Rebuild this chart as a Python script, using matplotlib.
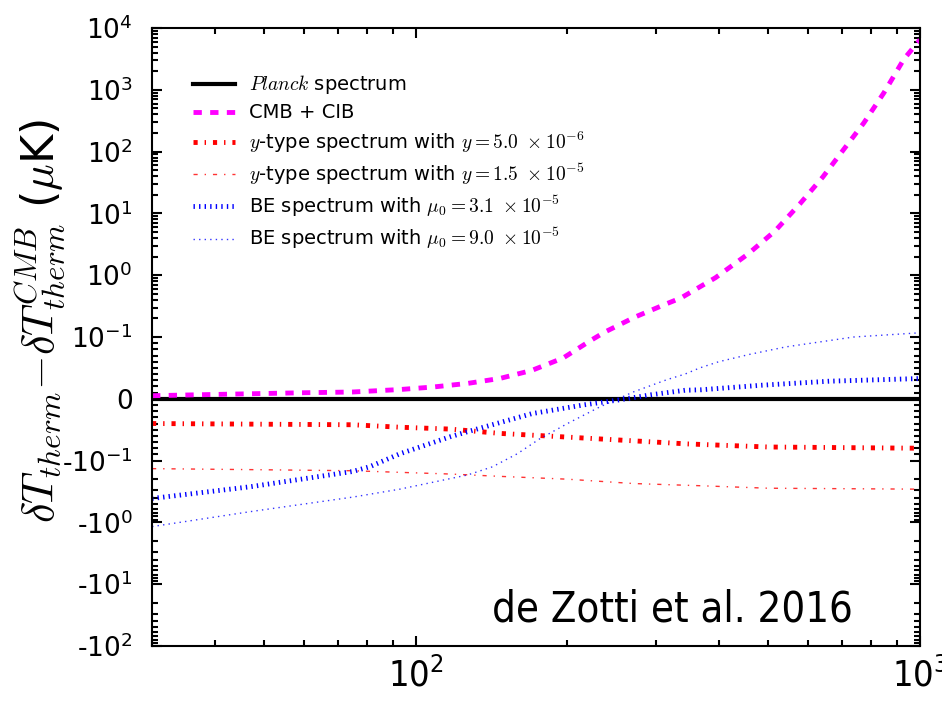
import numpy as np
import matplotlib
matplotlib.use("Agg")
from matplotlib import pyplot as plt
from matplotlib.ticker import FixedLocator, NullFormatter

plt.rcParams['mathtext.fontset'] = 'cm'
plt.rcParams['lines.scale_dashes'] = False

# frequency grids (GHz) and temperature residuals (muK) for each curve
nu_planck = [30, 1000]
dT_planck = [0.0, 0.0]

nu_cib = [30, 37, 59, 75, 93, 108, 127, 147, 170, 196, 223, 237, 272, 313,
          336, 393, 456, 516, 578, 642, 705, 774, 848, 930, 1000]
dT_cib = [0.005, 0.0065, 0.0097, 0.011, 0.015, 0.019, 0.025, 0.033, 0.046,
          0.066, 0.095, 0.12, 0.21, 0.34, 0.43, 0.91, 2.2, 5.2, 14.3, 39,
          107, 292, 893, 3170, 6450]

nu_y1 = [30, 75, 93, 117, 147, 200, 270, 345, 500, 1000]
dT_y1 = [-0.040, -0.042, -0.046, -0.049, -0.056, -0.062, -0.068, -0.073,
         -0.078, -0.080]

nu_y2 = [30, 47, 75, 117, 147, 200, 270, 366, 500, 1000]
dT_y2 = [-0.135, -0.14, -0.146, -0.165, -0.18, -0.2, -0.235, -0.255,
         -0.28, -0.29]

nu_be1 = [30, 47, 75, 81, 93, 117, 127, 170, 216, 252, 293, 342, 368, 486,
          662, 1000]
dT_be1 = [-0.41, -0.265, -0.15, -0.126, -0.089, -0.0615, -0.053, -0.024,
          -0.0097, -0.002, 0.0065, 0.0138, 0.0146, 0.022, 0.0285, 0.0328]

nu_be2 = [30, 47, 75, 93, 117, 127, 142, 159, 176, 200, 232, 270, 315, 342,
          366, 399, 460, 542, 739, 1000]
dT_be2 = [-1.17, -0.67, -0.39, -0.29, -0.196, -0.17, -0.126, -0.089, -0.065,
          -0.04, -0.013, 0.011, 0.031, 0.040, 0.050, 0.060, 0.072, 0.084,
          0.100, 0.117]

ytick_vals = [-1e2, -1e1, -1e0, -1e-1, 0, 1e-1, 1e0, 1e1, 1e2, 1e3, 1e4]
ytick_labels = [r'-$\mathdefault{10^{2}}$', r'-$\mathdefault{10^{1}}$',
                r'-$\mathdefault{10^{0}}$', r'-$\mathdefault{10^{-1}}$', '0',
                r'$\mathdefault{10^{-1}}$', r'$\mathdefault{10^{0}}$',
                r'$\mathdefault{10^{1}}$', r'$\mathdefault{10^{2}}$',
                r'$\mathdefault{10^{3}}$', r'$\mathdefault{10^{4}}$']
xtick_vals = [100, 1000]
xtick_labels = [r'$\mathdefault{10^{2}}$', r'$\mathdefault{10^{3}}$']

fig = plt.figure(figsize=(9.42, 7.01), dpi=100)
ax = fig.add_axes([0.1614, 0.0785, 0.8152, 0.8815])

ax.plot(nu_planck, dT_planck, color='k', lw=3, label=r'$Planck$ spectrum')
ax.plot(nu_cib, dT_cib, color='#ff00ff', lw=3.5, dashes=(6, 6),
        label='CMB + CIB')
ax.plot(nu_y1, dT_y1, color='r', lw=3.5, dashes=(3, 5, 1, 5),
        label=r'$y$-type spectrum with $y=5.0\ \times 10^{-6}$')
ax.plot(nu_y2, dT_y2, color='r', lw=1.0, alpha=0.8, dashes=(3, 5, 1, 5),
        label=r'$y$-type spectrum with $y=1.5\ \times 10^{-5}$')
ax.plot(nu_be1, dT_be1, color='b', lw=3.5, dashes=(1, 3),
        label=r'BE spectrum with $\mu_0=3.1\ \times 10^{-5}$')
ax.plot(nu_be2, dT_be2, color='b', lw=1.0, alpha=0.8, dashes=(1, 3),
        label=r'BE spectrum with $\mu_0=9.0\ \times 10^{-5}$')

ax.set_xscale('log')
ax.set_yscale('symlog', linthresh=0.1, linscale=0.9)
ax.set_xlim(30, 1000)
ax.set_ylim(-1e2, 1e4)

ax.yaxis.set_major_locator(FixedLocator(ytick_vals))
ax.set_yticklabels(ytick_labels)
minors = []
for e in range(-1, 4):
    for k in range(2, 10):
        minors += [k * 10.0**e, -k * 10.0**e]
minors += [k * 0.01 for k in range(1, 10)] + [-k * 0.01 for k in range(1, 10)]
minors = [m for m in minors if -100 <= m <= 1e4]
ax.yaxis.set_minor_locator(FixedLocator(minors))
ax.yaxis.set_minor_formatter(NullFormatter())

ax.set_xticks(xtick_vals)
ax.set_xticklabels(xtick_labels)
for lbl in ax.get_xticklabels():
    lbl.set_fontstretch('condensed')

ax.tick_params(which='both', direction='in', top=True, right=True, width=1.5)
ax.tick_params(which='major', length=7)
ax.tick_params(which='minor', length=4)
ax.tick_params(axis='y', labelsize=19, pad=14)
ax.tick_params(axis='x', labelsize=26, pad=8)
for s in ax.spines.values():
    s.set_linewidth(1.5)

ax.set_ylabel(r'$\delta T_{therm}$$-$$\delta T^{CMB}_{therm}$ ($\mu$K)',
              fontsize=32)
ax.yaxis.set_label_coords(-0.11, 0.527)

ax.legend(loc='upper left', bbox_to_anchor=(0.03, 0.955), frameon=False,
          fontsize=14, handlelength=2.2, handletextpad=0.7, labelspacing=0.36)

ax.text(0.912, 0.039, 'de Zotti et al. 2016', transform=ax.transAxes,
        fontsize=30, ha='right', va='baseline', fontstretch='condensed')

plt.savefig('out.png', dpi=100)
